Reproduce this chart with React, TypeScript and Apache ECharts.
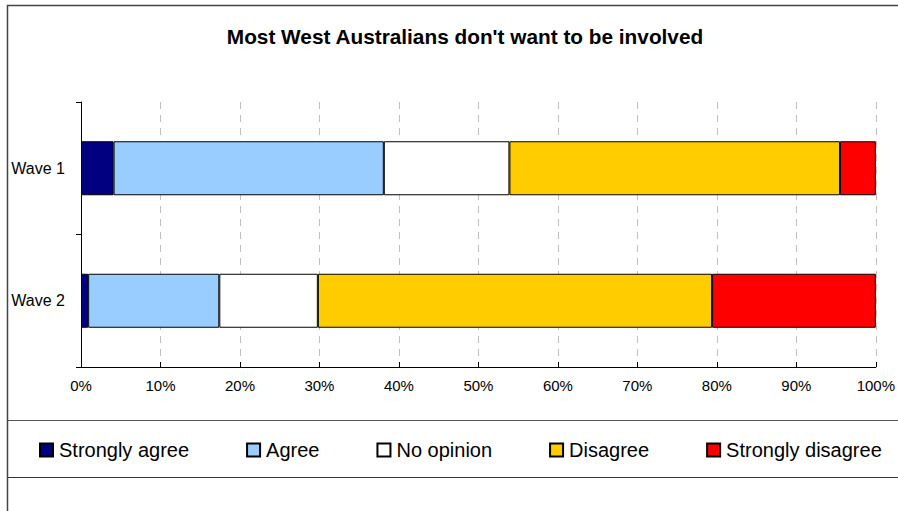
import React, { useEffect, useRef } from "react";
import * as echarts from "echarts";

const categories = ["Wave 1", "Wave 2"];
const seriesNames = ["Strongly agree", "Agree", "No opinion", "Disagree", "Strongly disagree"];
const stronglyAgree = [4.1, 0.9];
const agree = [34.0, 16.5];
const noOpinion = [15.8, 12.4];
const disagree = [41.6, 49.6];
const stronglyDisagree = [4.5, 20.6];
const colors = ["#000080", "#99CCFF", "#FFFFFF", "#FFCC00", "#FF0000"];
const xTicks = { min: 0, max: 100, interval: 10 };

const FONT = "Liberation Sans, Arial, sans-serif";

export default function App() {
  const ref = useRef<HTMLDivElement>(null);
  useEffect(() => {
    if (!ref.current) return;
    const chart = echarts.init(ref.current, null, { renderer: "svg" });
    const values = [stronglyAgree, agree, noOpinion, disagree, stronglyDisagree];
    chart.setOption({
      animation: false,
      backgroundColor: "#fff",
      textStyle: { fontFamily: FONT },
      title: {
        text: "Most West Australians don't want to be involved",
        left: 460,
        textAlign: "center",
        top: 21,
        textStyle: { fontFamily: FONT, fontSize: 20.8, fontWeight: "bold", color: "#000" },
      },
      legend: {
        left: 39,
        top: 440,
        padding: 0,
        icon: "rect",
        itemWidth: 13,
        itemHeight: 13,
        itemGap: 57,
        data: seriesNames,
        textStyle: { fontFamily: FONT, fontSize: 20, color: "#000", padding: [0, 0, 0, 1] },
      },
      grid: { left: 81, right: 18, top: 102, bottom: 144, containLabel: false },
      xAxis: {
        type: "value",
        min: xTicks.min,
        max: xTicks.max,
        interval: xTicks.interval,
        axisLine: { show: true, lineStyle: { color: "#000", width: 1 } },
        axisTick: { show: true, inside: true, length: 5, lineStyle: { color: "#000" } },
        axisLabel: { formatter: "{value}%", fontSize: 15, color: "#000", margin: 11, fontFamily: FONT },
        splitLine: { show: true, lineStyle: { color: "#c0c0c0", type: [7, 6], width: 1 } },
      },
      yAxis: {
        type: "category",
        inverse: true,
        data: categories,
        axisLine: { show: true, lineStyle: { color: "#000", width: 1 } },
        axisTick: { show: true, length: 5, lineStyle: { color: "#000" } },
        axisLabel: { fontSize: 16, color: "#000", margin: 16, fontFamily: FONT },
        splitLine: { show: false },
      },
      series: seriesNames.map((name, i) => ({
        name,
        type: "bar",
        stack: "total",
        barWidth: 54,
        data: values[i],
        itemStyle: { color: colors[i], borderColor: "#000", borderWidth: 1 },
        emphasis: { disabled: true },
      })),
      graphic: [
        {
          type: "polyline",
          silent: true,
          shape: { points: [[7.5, 511], [7.5, 5.5], [898, 5.5]] },
          style: { fill: "none", stroke: "#444", lineWidth: 1.5 },
          z: 100,
        },
        {
          type: "line",
          silent: true,
          shape: { x1: 7, y1: 420.5, x2: 898, y2: 420.5 },
          style: { stroke: "#555", lineWidth: 1.2 },
        },
        {
          type: "line",
          silent: true,
          shape: { x1: 7, y1: 477.5, x2: 898, y2: 477.5 },
          style: { stroke: "#333", lineWidth: 1.2 },
        },
      ],
    });
    return () => chart.dispose();
  }, []);
  return (
    <div
      ref={ref}
      style={{ position: "fixed", left: 0, top: 0, width: 898, height: 511 }}
    />
  );
}
